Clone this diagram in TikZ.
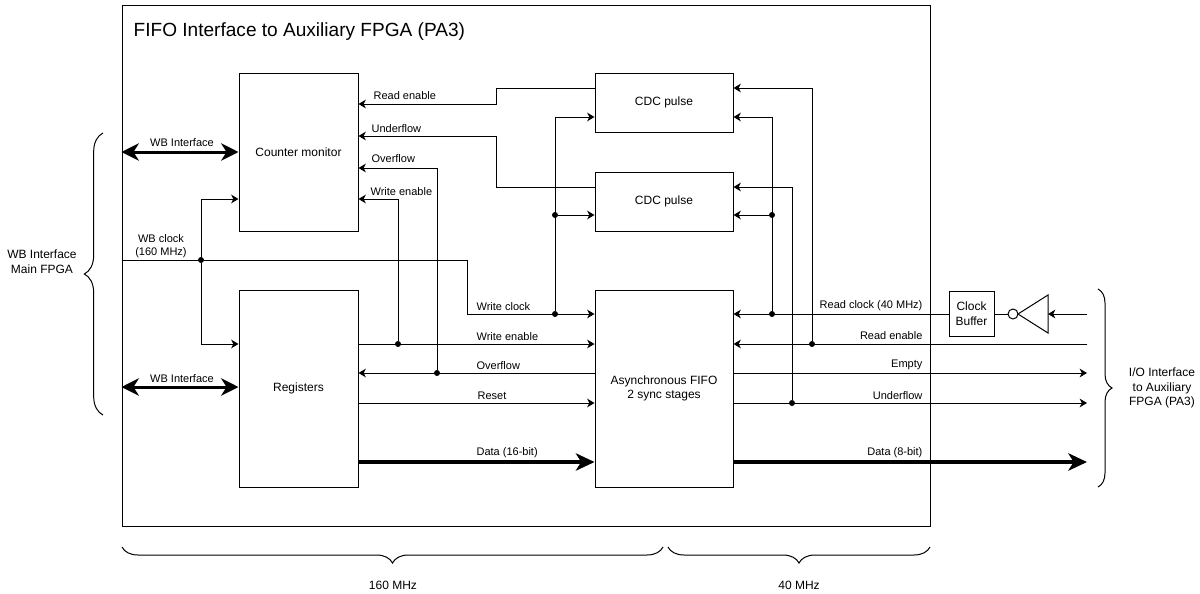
\documentclass[tikz,border=0pt]{standalone}
\usepackage{fontspec}
\setmainfont{Liberation Sans}
\usetikzlibrary{arrows.meta,decorations.pathreplacing,calc}

\begin{document}
\begin{tikzpicture}[x=0.75pt,y=-0.75pt,
  box/.style={draw, line width=0.75pt, align=center, inner sep=0pt,
    font=\fontsize{9}{11}\selectfont},
  lbl/.style={inner sep=1pt, font=\fontsize{8.25}{10}\selectfont},
  side/.style={align=center, font=\fontsize{9}{11}\selectfont},
  wire/.style={line width=0.75pt},
  arr/.style={wire, -{Stealth[length=5.5pt,width=6.5pt,inset=1.6pt]}},
  bus/.style={line width=3pt, -{Stealth[length=14pt,width=13pt,inset=4pt]}},
  wbbus/.style={line width=2.25pt,
    {Stealth[length=13pt,width=13pt,inset=4pt]}-{Stealth[length=13pt,width=13pt,inset=4pt]}},
  dot/.style={circle, fill, inner sep=0pt, minimum size=4.5pt},
  brc/.style={decorate, line width=0.75pt, decoration={brace, amplitude=#1}}
]
\useasboundingbox (0,0) rectangle (1200,593);

% outer frame and title
\node[draw, line width=0.75pt, minimum width=606pt, minimum height=390.75pt, inner sep=0pt] (frame) at (526,265.5) {};
\node[anchor=west, font=\fontsize{14.3}{16}\selectfont] (title) at (129,32) {FIFO Interface to Auxiliary FPGA (PA3)};

% functional blocks
\node[box, minimum width=89.25pt, minimum height=118.5pt] (cm) at (298.5,152) {Counter monitor};
\node[box, minimum width=89.25pt, minimum height=147.75pt] (reg) at (298.5,388.5) {Registers};
\node[box, minimum width=103.5pt, minimum height=44.25pt] (cdc1) at (664,102.5) {CDC pulse};
\node[box, minimum width=103.5pt, minimum height=44.25pt] (cdc2) at (664,201.5) {CDC pulse};
\node[box, minimum width=103.5pt, minimum height=147.75pt] (fifo) at (664,388.5) {Asynchronous FIFO\\2 sync stages};
\node[box, minimum width=33.75pt, minimum height=33.75pt] (cb) at (971.5,314) {Clock\\Buffer};

% input inverter
\draw[wire] (1048,295) -- (1048,333) -- (1018,314) -- cycle;
\node[circle, draw, line width=0.75pt, minimum size=7.5pt, inner sep=0pt] (bub) at (1013,314) {};
\coordinate (invin) at (1048,314);
\coordinate (clkpin) at (1087,314);

% junction dots
\node[dot] (dclk) at (201,260) {};
\node[dot] (dwc) at (555,314) {};
\node[dot] (dwc2) at (555,215) {};
\node[dot] (dwe) at (398,344) {};
\node[dot] (dov) at (437,373) {};
\node[dot] (drc) at (772,314) {};
\node[dot] (drc2) at (772,215) {};
\node[dot] (dre) at (812,344) {};
\node[dot] (duf) at (792,403) {};
\coordinate (wcbend) at (467,314);

% WB interfaces
\draw[wbbus] (frame.west |- cm.west) -- (cm.west);
\draw[wbbus] (frame.west |- 0,387) -- (reg.west |- 0,387);
\node[lbl] (wbl1) at (182,143) {WB Interface};
\node[lbl] (wbl2) at (182,379) {WB Interface};

% write clock domain
\draw[arr] (frame.west |- dclk) -| (wcbend) -- (fifo.west |- wcbend);
\node[lbl, align=center] (wbclk) at (161,246) {WB clock\\(160 MHz)};
\draw[arr] (dclk) |- (cm.west |- 0,199);
\draw[arr] (dclk) |- (reg.west |- 0,344);
\draw[arr] (dwc) |- (cdc1.west |- 0,117);
\draw[arr] (dwc2) -- (cdc2.west |- dwc2);

\draw[arr] (reg.east |- dwe) -- (fifo.west |- dwe);
\draw[arr] (dwe) |- (cm.east |- 0,199);
\draw[arr] (fifo.west |- dov) -- (reg.east |- dov);
\draw[arr] (dov) |- (cm.east |- 0,168);
\draw[arr] (reg.east |- 0,403) -- (fifo.west |- 0,403);
\draw[bus] (reg.east |- 0,462) -- (fifo.west |- 0,462);

\draw[arr] (cdc1.west |- 0,88) -| (496,104) -- (cm.east |- 0,104);
\draw[arr] (cdc2.west |- 0,187) -| (496,136) -- (cm.east |- 0,136);

\node[lbl, anchor=west] at (372,96) {Read enable};
\node[lbl, anchor=west] at (370,129) {Underflow};
\node[lbl, anchor=west] at (370,159) {Overflow};
\node[lbl, anchor=west] at (369,192) {Write enable};
\node[lbl, anchor=west] at (475,307) {Write clock};
\node[lbl, anchor=west] at (475,337) {Write enable};
\node[lbl, anchor=west] at (475,366) {Overflow};
\node[lbl, anchor=west] at (476,396) {Reset};
\node[lbl, anchor=west] at (475,453) {Data (16-bit)};

% read clock domain
\draw[arr] (clkpin) -- (invin);
\draw[wire] (bub.west) -- (cb.east);
\draw[arr] (cb.west) -- (fifo.east |- cb.west);
\draw[arr] (drc) |- (cdc1.east |- 0,117);
\draw[arr] (drc2) -- (cdc2.east |- drc2);

\draw[arr] (1087,344) -- (fifo.east |- 0,344);
\draw[arr] (dre) |- (cdc1.east |- 0,88);
\draw[arr] (fifo.east |- 0,373) -- (1087,373);
\draw[arr] (fifo.east |- duf) -- (1087,403);
\draw[arr] (duf) |- (cdc2.east |- 0,187);
\draw[bus] (fifo.east |- 0,462) -- (1087,462);

\node[lbl, anchor=east] at (924,306) {Read clock (40 MHz)};
\node[lbl, anchor=east] at (924,336) {Read enable};
\node[lbl, anchor=east] at (924,365) {Empty};
\node[lbl, anchor=east] at (924,396) {Underflow};
\node[lbl, anchor=east] at (924,453) {Data (8-bit)};

% interface braces
\draw[brc=14pt] (103,415) -- (103,133);
\node[side] (left) at (42,262) {WB Interface\\Main FPGA};
\draw[brc=10.5pt] (1098,289) -- (1098,487);
\node[side] (right) at (1162,388) {I/O Interface\\to Auxiliary\\FPGA (PA3)};

% clock domain braces
\draw[brc=12pt] (663,547) -- (122,547);
\draw[brc=12pt] (930,547) -- (668,547);
\node[side] (f160) at (393,585) {160 MHz};
\node[side] (f40) at (799,585) {40 MHz};
\end{tikzpicture}
\end{document}
